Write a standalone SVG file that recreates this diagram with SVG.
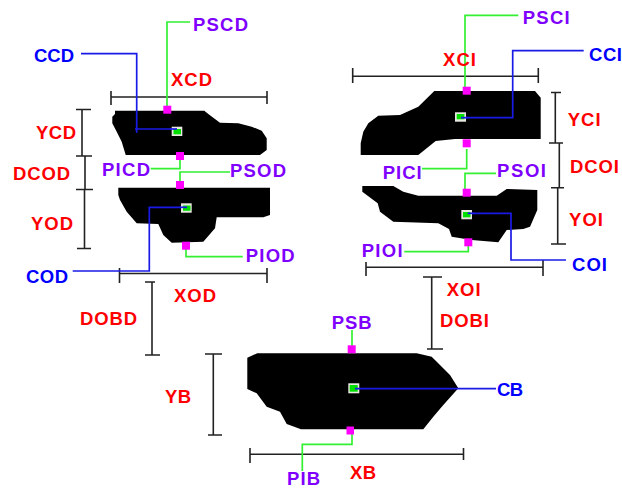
<svg xmlns="http://www.w3.org/2000/svg" width="622" height="489" viewBox="0 0 622 489">
<style>
text{font-family:"Liberation Sans",Arial,sans-serif;font-weight:bold;font-size:18.5px}
.r{fill:#ff0000}.b{fill:#0000ff}.p{fill:#8000ff}
.shape{fill:#000}
.m{fill:#ff00ff}
.f{fill:#e8e8e0}
.c{fill:#00e000}
.d{fill:none;stroke:#222;stroke-width:1.6}
.gl{fill:none;stroke:#33f033;stroke-width:1.7}
.bl{fill:none;stroke:#1a1ae6;stroke-width:1.7}
</style>
<rect width="622" height="489" fill="#fff"/>
<g id="shape-CD"><polygon class="shape" points="115,110.7 204.3,110.7 208.3,114 220,122.7 238.3,123.3 251.7,126.7 261.7,130.7 266.7,138.3 266.7,150 260,155 125.7,155 121.7,141.7 116.7,131.7 112.3,123.3 112.3,116.7 115,114"/></g>
<g id="shape-OD"><polygon class="shape" points="118.3,187.7 270,187.7 270,215 263.3,217.3 216.7,217.3 215,228.3 203.3,241.7 171.7,242.7 163.3,235 158.3,224 136.7,223.3 126.7,211.7 120,200 118.3,195"/></g>
<g id="shape-CI"><polygon class="shape" points="434.3,91 535,91 540.7,97.7 540.7,139 455,139 435.7,141 418.3,155 360.7,155 360.7,143.3 363.3,131.7 368.3,123.3 378.3,115.7 400,115 418.3,106.7"/></g>
<g id="shape-OI"><polygon class="shape" points="362.3,186 393.3,186 403.3,191.7 418.3,195.7 496.7,195.7 506.7,189 537.3,190 537.3,210 530,226.7 523.3,229 506.7,230 498.3,242.3 471.7,240 451.7,236.7 449,229 438.3,223.3 393.3,221.7 380,211.7 377.7,203.3 362.3,191.7"/></g>
<g id="shape-B"><polygon class="shape" points="257.3,353.3 416.7,353.3 431.7,356.7 440,365 450,375 458.3,388.3 443.3,405 433.3,416.7 423.3,429.3 301,429.3 286.7,424 280,411.7 266.7,406.7 256.7,393.3 247.3,389 247.3,357.7"/></g>
<g id="dimensions">
<path class="d" d="M111,97H267M111,91V105M267,91V104"/>
<path class="d" d="M82,109.5V156M76,109.5H91M76,156H92"/>
<path class="d" d="M85,156V189.5M76,189.5H93"/>
<path class="d" d="M84.5,189.5V248.5M77,248.5H91"/>
<path class="d" d="M119.5,273.5H267M119.5,268V283M267,268V283"/>
<path class="d" d="M152,282V355M145,282H155M145,355H160"/>
<path class="d" d="M213.3,354V435M205,354H222M208,435H222"/>
<path class="d" d="M250,454.3H463.5M250,448V463M463.5,448V460"/>
<path class="d" d="M431.7,277V349M423,277H442M427,349H443"/>
<path class="d" d="M366,267.3H543M366,262V276M543,260V276"/>
<path class="d" d="M352.7,76.3H538.3M352.7,68V83M538.3,68V83"/>
<path class="d" d="M555.3,92.5V143M551,92.5H561M549,143H563"/>
<path class="d" d="M559.3,143V187.7M551,187.7H564"/>
<path class="d" d="M557.7,187.7V244M551,244H566"/>
</g>
<g id="connectors">
<path class="gl" d="M190,22H167V106"/>
<path class="bl" d="M81,53.7H136.7V132.7M135,129H177"/>
<path class="gl" d="M150.7,168.7H180V158"/>
<path class="gl" d="M230,172H180V182"/>
<path class="bl" d="M72.7,271H149.3V207.3H187"/>
<path class="gl" d="M186,248V256.7H242.7"/>
<path class="gl" d="M518.3,15.3H465V87"/>
<path class="bl" d="M583.7,50.7H512.7V117.7H461"/>
<path class="gl" d="M466.7,149V168.7H422"/>
<path class="gl" d="M496,173.3H465V189"/>
<path class="bl" d="M467.7,213.3H511V260H566"/>
<path class="gl" d="M468.3,246V251.7H404.3"/>
<path class="gl" d="M352,330V346"/>
<path class="gl" d="M352,433V444.3H302.3V471"/>
</g>
<g id="point-PSCD"><rect class="m" x="163.3" y="105.7" width="8" height="8"/><text class="p" x="193" y="30.5" textLength="55">PSCD</text></g>
<g id="point-CCD"><rect class="f" x="171.7" y="126.7" width="10.6" height="9.3"/><rect class="c" x="173.5" y="129" width="7.5" height="5.3"/><path class="bl" d="M170,129H177"/><text class="b" x="34" y="62" textLength="40">CCD</text></g>
<g id="point-PICD"><rect class="m" x="176" y="152" width="8" height="8"/><text class="p" x="102" y="175.7" textLength="48">PICD</text></g>
<g id="point-PSOD"><rect class="m" x="176" y="181" width="8" height="8"/><text class="p" x="230" y="176.7" textLength="56">PSOD</text></g>
<g id="point-COD"><rect class="f" x="181" y="203.3" width="10.7" height="9.4"/><rect class="c" x="183" y="205.5" width="7.5" height="5.3"/><path class="bl" d="M180,207.3H187"/><text class="b" x="26" y="283" textLength="42">COD</text></g>
<g id="point-PIOD"><rect class="m" x="182" y="241.7" width="8" height="8"/><text class="p" x="245.7" y="261.7" textLength="49">PIOD</text></g>
<g id="point-PSCI"><rect class="m" x="462.7" y="86.7" width="8" height="8"/><text class="p" x="522.7" y="24" textLength="47">PSCI</text></g>
<g id="point-CCI"><rect class="f" x="455" y="112.3" width="11" height="9.4"/><rect class="c" x="456.7" y="114" width="7.7" height="5.3"/><path class="bl" d="M461,117.7H468"/><text class="b" x="589" y="61" textLength="33">CCI</text></g>
<g id="point-PICI"><rect class="m" x="462.7" y="139.3" width="8" height="8"/><text class="p" x="382.7" y="179" textLength="39">PICI</text></g>
<g id="point-PSOI"><rect class="m" x="462.7" y="188.7" width="8" height="8"/><text class="p" x="497" y="177" textLength="49">PSOI</text></g>
<g id="point-COI"><rect class="f" x="461.3" y="210" width="10.7" height="9.3"/><rect class="c" x="463" y="212" width="7.5" height="5.3"/><path class="bl" d="M467.7,213.3H474"/><text class="b" x="572" y="271" textLength="35">COI</text></g>
<g id="point-PIOI"><rect class="m" x="464.3" y="238.3" width="8" height="8"/><text class="p" x="361.7" y="256.7" textLength="41">PIOI</text></g>
<g id="point-PSB"><rect class="m" x="347.7" y="345.3" width="8" height="8"/><text class="p" x="331.7" y="328.7" textLength="40">PSB</text></g>
<g id="point-CB"><rect class="f" x="348.3" y="383.3" width="11" height="10"/><rect class="c" x="349.7" y="385" width="8" height="6.7"/><path class="bl" d="M355,388.7H496"/><text class="b" x="497" y="396" textLength="26">CB</text></g>
<g id="point-PIB"><rect class="m" x="346.5" y="426.5" width="7.5" height="8"/><text class="p" x="287" y="484.5" textLength="33">PIB</text></g>
<g id="labels">
<text class="r" x="171" y="86" textLength="41">XCD</text>
<text class="r" x="36" y="139" textLength="40">YCD</text>
<text class="r" x="13" y="180" textLength="57">DCOD</text>
<text class="r" x="31" y="230" textLength="42">YOD</text>
<text class="r" x="174" y="302" textLength="42">XOD</text>
<text class="r" x="80" y="325" textLength="57">DOBD</text>
<text class="r" x="165" y="403.3" textLength="26">YB</text>
<text class="r" x="350" y="479" textLength="26">XB</text>
<text class="r" x="446.7" y="295.7" textLength="34">XOI</text>
<text class="r" x="440" y="327.3" textLength="49">DOBI</text>
<text class="r" x="443" y="66" textLength="33">XCI</text>
<text class="r" x="567.7" y="126" textLength="33">YCI</text>
<text class="r" x="570" y="172.7" textLength="49">DCOI</text>
<text class="r" x="569" y="226" textLength="34">YOI</text>
</g>
</svg>
